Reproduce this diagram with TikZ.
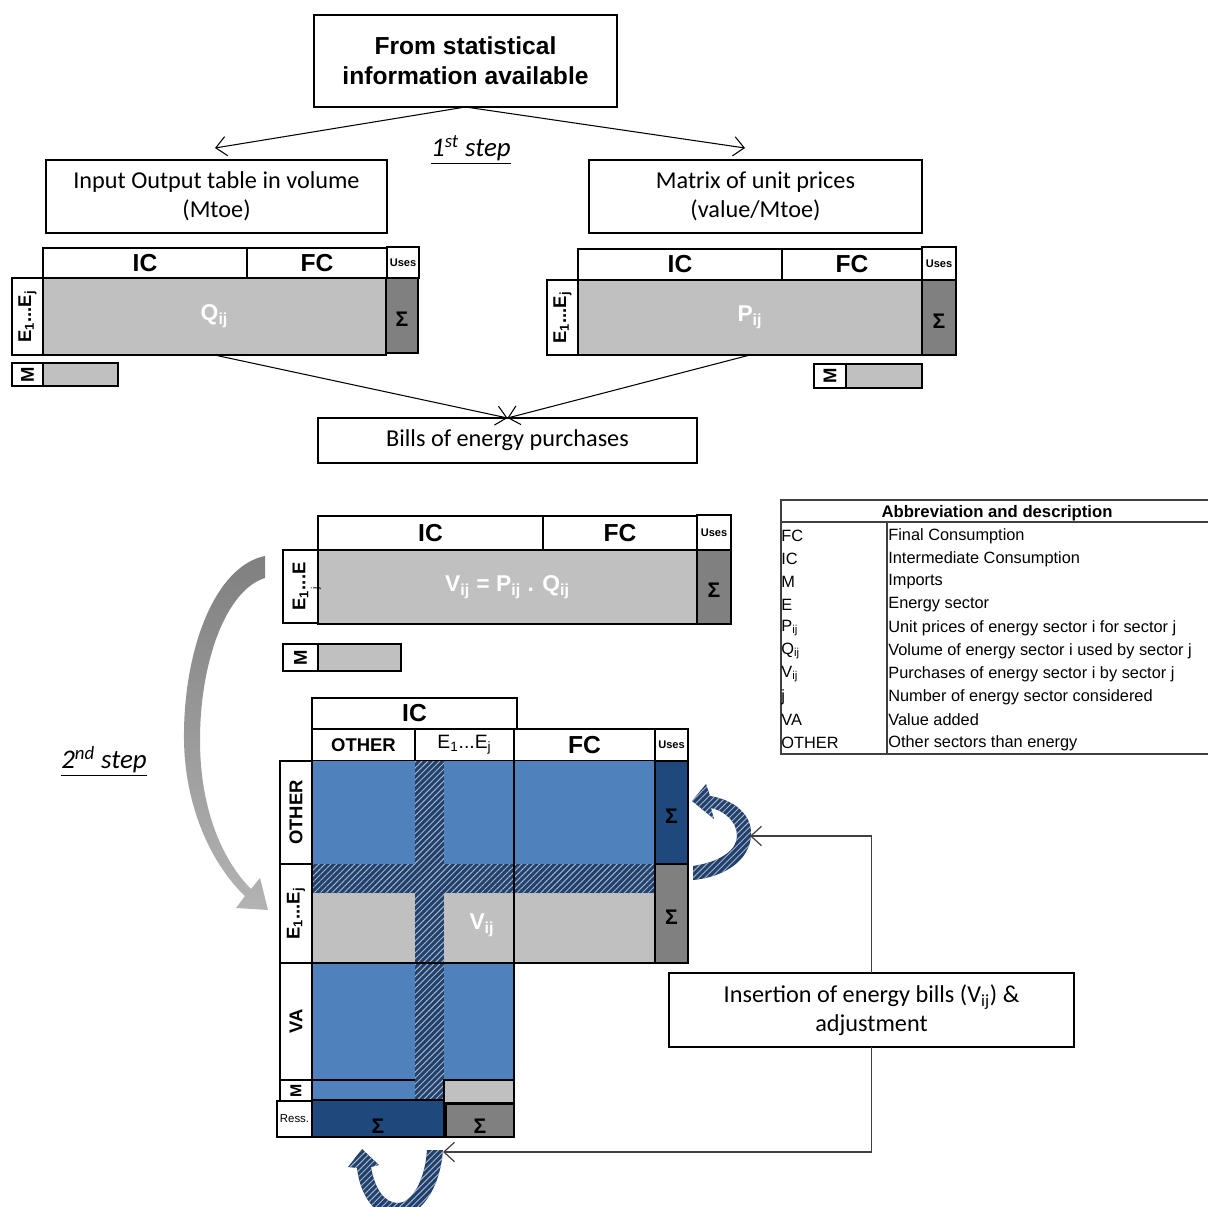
\documentclass[tikz,border=0pt]{standalone}
\usepackage{fontspec}
\setmainfont{Liberation Sans}
\newfontfamily\calib{Carlito}
\usetikzlibrary{arrows.meta,patterns.meta}
\definecolor{ublue}{HTML}{4F81BD}
\definecolor{unavy}{HTML}{1F497D}
\definecolor{hnavy}{HTML}{22406A}
\definecolor{hline}{HTML}{A3B5CC}
\definecolor{lgrey}{HTML}{C0C0C0}
\definecolor{dgrey}{HTML}{808080}
\definecolor{cline}{HTML}{404040}
\newcommand\cellbox[7]{\node[cellb,#6,minimum width={(#4-#2)*0.2mm},minimum height={(#5-#3)*0.2mm}] (#1) at ({(#2+#4)/2},{(#3+#5)/2}) {#7};}
\newcommand\lowsig[1]{\raisebox{#1}[7pt][0pt]{Σ}}
\tikzset{
  cellb/.style={draw=black, line width=0.8pt, inner sep=0pt, outer sep=0pt},
  topbox/.style={fill=white, align=center, font=\bfseries\fontsize{14}{17.3}\selectfont},
  txtbox/.style={fill=white, align=center, font=\calib\fontsize{13.8}{16.3}\selectfont},
  hdr/.style={fill=white, font=\bfseries\fontsize{14}{16}\selectfont},
  hdrs/.style={fill=white, font=\bfseries\fontsize{10.5}{12}\selectfont},
  hdrn/.style={fill=white, font=\fontsize{11}{12}\selectfont},
  usesc/.style={fill=white, font=\bfseries\fontsize{6.3}{7}\selectfont},
  sig/.style={font=\bfseries\fontsize{12}{14}\selectfont},
  wtxt/.style={text=white, font=\bfseries\fontsize{13}{15}\selectfont},
  rlab/.style={fill=white, font=\bfseries\fontsize{10.5}{12}\selectfont},
  conn/.style={draw=black, line width=0.6pt, -{Straight Barb[length=6pt,width=11pt]}},
  conn2/.style={draw=cline, line width=0.7pt, -{Straight Barb[length=6pt,width=11pt]}},
  steplab/.style={font=\calib\itshape\fontsize{15.3}{17}\selectfont},
  tabtxt/.style={anchor=west, inner sep=0pt, font=\fontsize{9.3}{10}\selectfont},
  hatch/.style={fill=hnavy, postaction={pattern={Lines[angle=45,distance=2.4pt,line width=0.55pt]}, pattern color=hline}},
  tline/.style={draw=cline, line width=0.9pt},
}
\begin{document}
\begin{tikzpicture}[x=0.2mm,y=-0.2mm]
\useasboundingbox (0,0) rectangle (1208,1207);

% ---------- top part ----------
\cellbox{top}{314}{15}{617}{107}{topbox}{From statistical\\information available}
\cellbox{iot}{46}{160}{387}{233}{txtbox}{Input Output table in volume\\(Mtoe)}
\cellbox{mup}{589}{160}{922}{233}{txtbox}{Matrix of unit prices\\(value/Mtoe)}
\coordinate (c1) at (215,148);
\coordinate (c2) at (745,148);
\draw[conn] (top.south) -- (c1);
\draw[conn] (top.south) -- (c2);
\node[steplab] (s1) at (471,150) {\underline{1\textsuperscript{st} step}};

% matrix Q
\cellbox{aic}{43}{248}{247}{278}{hdr}{IC}
\cellbox{afc}{247}{248}{387}{278}{hdr}{FC}
\cellbox{auses}{387}{247}{419}{278}{usesc}{Uses}
\cellbox{abody}{43}{278}{386}{355}{fill=lgrey,wtxt}{Q\textsubscript{ij}}
\cellbox{alab}{12}{278}{43}{355}{rlab}{\rotatebox{90}{E\textsubscript{1}...E\textsubscript{j}}}
\cellbox{asig}{386}{278}{418}{353}{fill=dgrey,sig}{\lowsig{-3pt}}
\cellbox{amlab}{12}{363}{43}{386}{rlab}{\rotatebox{90}{M}}
\cellbox{amg}{43}{363}{118}{386}{fill=lgrey}{}

% matrix P
\cellbox{bic}{578}{249}{782}{280}{hdr}{IC}
\cellbox{bfc}{782}{249}{922}{280}{hdr}{FC}
\cellbox{buses}{922}{247}{956}{280}{usesc}{Uses}
\cellbox{bbody}{578}{280}{922}{355}{fill=lgrey,wtxt}{P\textsubscript{ij}}
\cellbox{blab}{547}{280}{578}{355}{rlab}{\rotatebox{90}{E\textsubscript{1}...E\textsubscript{j}}}
\cellbox{bsig}{922}{280}{956}{355}{fill=dgrey,sig}{\lowsig{-3pt}}
\cellbox{bmlab}{814}{364}{846}{388}{rlab}{\rotatebox{90}{M}}
\cellbox{bmg}{846}{364}{922}{388}{fill=lgrey}{}

\cellbox{bills}{318}{418}{697}{463}{txtbox}{Bills of energy purchases}
\draw[conn] (abody.south) -- (bills.north);
\draw[conn] (bbody.south) -- (bills.north);

% matrix V
\cellbox{cic}{318}{516}{543}{550}{hdr}{IC}
\cellbox{cfc}{543}{516}{697}{550}{hdr}{FC}
\cellbox{cuses}{697}{515}{731}{550}{usesc}{Uses}
\cellbox{cbody}{318}{550}{697}{624}{fill=lgrey,wtxt}{V\textsubscript{ij} = P\textsubscript{ij} . Q\textsubscript{ij}}
\cellbox{clab}{283}{550}{318}{623}{rlab}{\rotatebox{90}{E\textsubscript{1}...E}}
\node[inner sep=0pt, font=\fontsize{6}{7}\selectfont, rotate=90] (cj) at (316,588) {j};
\cellbox{csig}{697}{550}{731}{624}{fill=dgrey,sig}{\lowsig{-2.5pt}}
\cellbox{cmlab}{283}{644}{318}{671}{rlab}{\rotatebox{90}{M}}
\cellbox{cmg}{318}{644}{401}{671}{fill=lgrey}{}

% ---------- grey curved arrow (2nd step) ----------
\shade[top color=dgrey, bottom color=lgrey!80!dgrey]
  (265,556) .. controls (215,566) and (183,650) .. (184,740)
  .. controls (185,812) and (215,868) .. (245,896)
  -- (236,908) -- (268,910) -- (260,878) -- (251,889)
  .. controls (224,862) and (200,812) .. (200,740)
  .. controls (200,662) and (226,590) .. (265,578) -- cycle;
\node[steplab] (s2) at (104,761) {\underline{2\textsuperscript{nd} step}};

% ---------- big matrix ----------
\cellbox{dic}{312}{698}{517}{729}{hdr}{IC}
\cellbox{doth}{312}{729}{415}{761}{hdrs}{OTHER}
\cellbox{de}{415}{729}{514}{761}{hdrn}{E\textsubscript{1}...E\textsubscript{j}}
\cellbox{dfc}{514}{729}{655}{761}{hdr}{FC}
\cellbox{duses}{655}{729}{688}{761}{usesc}{Uses}
% fills
\fill[ublue] (312,761) rectangle (655,864);
\fill[lgrey] (312,893) rectangle (655,963);
\fill[ublue] (312,963) rectangle (514,1080);
\fill[ublue] (312,1080) rectangle (444,1100);
\path[hatch] (312,864) rectangle (655,893);
\path[hatch] (415,761) rectangle (444,1100);
\draw[line width=0.8pt] (514,761) -- (514,963);
\draw[line width=0.8pt] (312,963) -- (655,963);
\draw[line width=0.8pt] (514,963) -- (514,1080);
\draw[line width=0.8pt] (312,1080) -- (415,1080);
\node[wtxt, inner sep=0pt] (vij) at (482,925) {V\textsubscript{ij}};
% row labels
\cellbox{loth}{280}{761}{312}{864}{rlab}{\rotatebox{90}{OTHER}}
\cellbox{le}{280}{864}{312}{963}{rlab}{\rotatebox{90}{E\textsubscript{1}...E\textsubscript{j}}}
\cellbox{lva}{280}{963}{312}{1080}{rlab}{\rotatebox{90}{VA}}
\cellbox{lm}{280}{1080}{312}{1101}{rlab,font=\bfseries\fontsize{9}{10}\selectfont}{\rotatebox{90}{M}}
\cellbox{lress}{277}{1101}{312}{1137}{fill=white,font=\fontsize{6.5}{7}\selectfont}{Ress.}
\cellbox{dmg}{444}{1080}{514}{1103}{fill=lgrey}{}
\cellbox{dr1}{312}{1100}{444}{1137}{fill=unavy,sig}{\lowsig{-5pt}}
\cellbox{dr2}{446}{1104}{514}{1137}{fill=dgrey,sig}{\lowsig{-4pt}}
\cellbox{dsig1}{655}{761}{688}{864}{fill=unavy,sig}{\lowsig{-3pt}}
\cellbox{dsig2}{655}{864}{688}{963}{fill=dgrey,sig}{\lowsig{-3pt}}

% ---------- hatched curved arrows ----------
\path[hatch] (710,796) .. controls (735,800) and (752,815) .. (751,835)
  .. controls (750,860) and (725,877) .. (693,880) -- (693,866)
  .. controls (720,862) and (737,850) .. (737,836)
  .. controls (737,822) and (725,811) .. (711,808)
  -- (714,819) -- (692,801) -- (706,784) -- cycle;
\begin{scope}
\clip (0,0) rectangle (1208,1207);
\path[hatch] (443,1150) .. controls (440,1190) and (420,1216) .. (398,1218)
  .. controls (375,1218) and (360,1195) .. (357,1168)
  -- (348,1167) -- (362,1149) -- (379,1165) -- (371,1167)
  .. controls (375,1190) and (385,1203) .. (398,1203)
  .. controls (412,1203) and (425,1180) .. (427,1150) -- cycle;
\end{scope}

% ---------- insertion box ----------
\cellbox{ins}{669}{973}{1074}{1047}{txtbox}{Insertion of energy bills (V\textsubscript{ij}) \&\\adjustment}
\coordinate (e1) at (750,836);
\coordinate (e2) at (443,1152);
\draw[conn2] (ins.north) |- (e1);
\draw[conn2] (ins.south) |- (e2);

% ---------- table ----------
\draw[tline, line width=1.3pt] (780,500) -- (1208,500);
\draw[tline] (780,522) -- (1208,522);
\draw[tline] (780,754) -- (1208,754);
\draw[tline] (781,500) -- (781,754);
\draw[tline] (887,522) -- (887,754);
\node[inner sep=0pt, font=\bfseries\fontsize{9.5}{10}\selectfont] (thead) at (997,513) {Abbreviation and description};
\foreach \a/\b [count=\i] in {FC/Final Consumption, IC/Intermediate Consumption, M/Imports, E/Energy sector, P\textsubscript{ij}/Unit prices of energy sector i for sector j, Q\textsubscript{ij}/Volume of energy sector i used by sector j, V\textsubscript{ij}/Purchases of energy sector i by sector j, j/Number of energy sector considered, VA/Value added, OTHER/Other sectors than energy}{
  \node[tabtxt] (ta\i) at (781,{513+\i*23}) {\a};
  \node[tabtxt] (tb\i) at (888,{513+\i*23}) {\b};
}
\end{tikzpicture}
\end{document}
